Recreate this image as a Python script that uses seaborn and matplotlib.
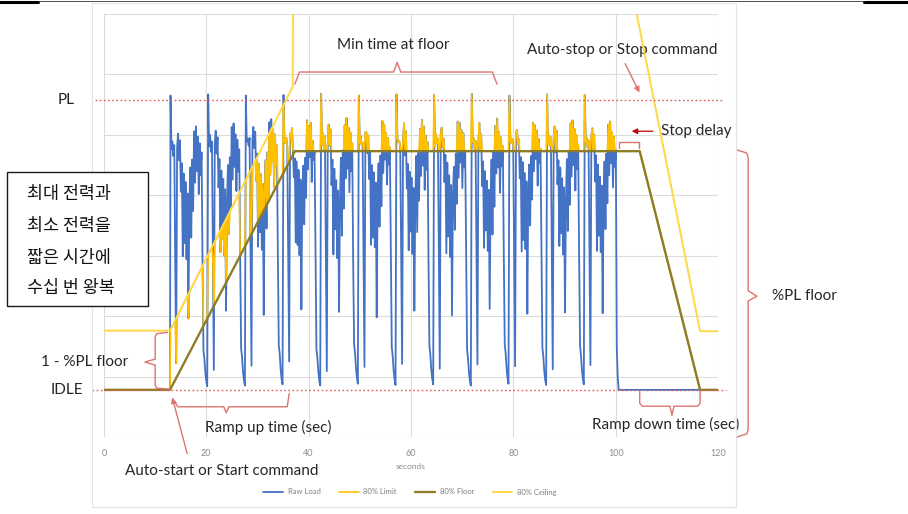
import numpy as np
import pandas as pd
import matplotlib
matplotlib.use("Agg")
import matplotlib.pyplot as plt
import seaborn as sns
from matplotlib.patches import Rectangle
from matplotlib.lines import Line2D

# ---------------- data ----------------
idle_level = 7.8
pl_level = 55.8

floor_t = [0.0, 12.9, 37.3, 104.7, 116.5, 120.0]
floor_v = [7.8, 7.8, 47.3, 47.3, 7.8, 7.8]

ceil_t = [0.0, 12.9, 36.9, 37.0, 99.4, 116.5, 120.0]
ceil_v = [17.6, 17.6, 58.0, 100.0, 90.0, 17.5, 17.5]

raw_pre_t = [0.0, 12.9]
raw_pre_v = [7.8, 7.8]
cycle_start = 13.0
cycle_period = 7.36
samples_per_cycle = 40
cycle_01 = [56.5, 47.6, 48.9, 46.5, 48.3, 28.8, 12.2, 47.9, 50.2, 45.8, 49.1, 40.6, 45.3, 29.9, 43.6, 32.1, 42.2, 29.4, 40.3, 19.6, 38.2, 44.6, 33.0, 45.9, 37.4, 50.6, 42.1, 51.4, 44.0, 49.7, 40.2, 48.6, 43.3, 47.1, 28.9, 14.3, 12.9, 10.6, 9.2, 8.4]
cycle_02 = [56.7, 48.1, 50.0, 47.2, 48.9, 29.5, 11.1, 48.4, 50.7, 46.9, 49.6, 41.3, 46.0, 30.6, 44.1, 32.8, 42.7, 30.0, 41.0, 20.9, 38.9, 45.0, 33.6, 46.3, 38.0, 51.3, 42.6, 51.9, 44.7, 50.1, 40.7, 49.2, 43.9, 47.6, 29.5, 14.7, 13.2, 10.8, 9.4, 8.5]
cycle_03 = [56.5, 48.9, 49.3, 48.2, 49.5, 30.4, 11.8, 49.1, 51.3, 47.8, 50.5, 42.4, 46.9, 31.5, 45.2, 33.9, 43.5, 31.0, 41.9, 20.2, 39.9, 45.8, 34.5, 47.1, 38.9, 52.1, 43.4, 52.6, 45.6, 50.9, 41.4, 50.1, 44.9, 48.3, 30.4, 15.2, 13.7, 11.2, 9.6, 8.7]
cycle_04 = [56.6, 49.2, 48.6, 49.5, 48.0, 31.2, 12.5, 50.2, 49.4, 51.1, 47.7, 43.0, 46.1, 32.2, 45.6, 31.8, 44.2, 30.1, 42.6, 21.1, 40.8, 44.9, 35.2, 46.2, 39.6, 52.4, 44.3, 51.5, 46.3, 52.0, 42.2, 49.0, 45.8, 47.3, 31.1, 14.6, 13.1, 10.9, 9.3, 8.5]
cycle_05 = [56.8, 48.3, 50.3, 47.6, 49.8, 29.2, 10.9, 48.5, 51.7, 48.2, 50.9, 41.7, 45.9, 30.2, 44.4, 34.4, 42.5, 29.6, 40.8, 20.7, 39.1, 46.2, 33.3, 47.5, 37.8, 51.6, 42.8, 52.8, 44.4, 51.2, 40.5, 50.4, 44.0, 48.6, 29.2, 15.4, 13.9, 11.4, 9.8, 8.8]
cycle_06 = [56.5, 48.6, 49.8, 48.4, 48.7, 30.7, 11.6, 50.4, 50.5, 47.0, 49.9, 42.7, 47.1, 31.8, 45.0, 33.0, 43.8, 31.4, 42.1, 19.8, 40.2, 45.3, 34.8, 46.6, 38.2, 52.3, 43.7, 51.7, 45.9, 50.3, 41.8, 49.5, 45.1, 47.9, 30.7, 14.9, 13.4, 11.0, 9.5, 8.6]
cycle_07 = [56.7, 49.4, 48.8, 49.0, 47.9, 29.8, 12.1, 49.0, 51.9, 46.6, 50.6, 41.1, 45.2, 30.9, 43.9, 34.0, 42.9, 30.3, 41.2, 20.9, 39.3, 46.5, 33.9, 47.0, 39.1, 51.0, 43.2, 52.5, 44.9, 51.4, 40.9, 49.9, 44.2, 48.8, 29.9, 15.0, 13.6, 11.1, 9.6, 8.7]
cycle_08 = [56.6, 47.9, 50.1, 48.6, 49.4, 30.1, 11.3, 50.0, 51.2, 48.0, 49.4, 42.2, 46.7, 30.4, 45.4, 33.2, 43.3, 29.8, 41.7, 20.1, 40.4, 44.7, 34.3, 46.9, 38.6, 52.2, 42.9, 52.0, 45.4, 50.8, 41.2, 50.3, 44.6, 47.4, 30.3, 14.5, 13.0, 10.7, 9.3, 8.5]
cycle_09 = [56.8, 48.7, 49.4, 47.7, 49.0, 31.0, 12.0, 48.6, 52.0, 47.3, 50.1, 41.5, 45.6, 31.3, 44.0, 34.2, 42.4, 30.8, 40.9, 21.2, 39.7, 45.9, 33.5, 47.3, 38.1, 51.5, 43.6, 52.7, 44.6, 50.5, 40.4, 49.6, 44.8, 48.1, 30.0, 15.3, 13.8, 11.3, 9.7, 8.8]
cycle_10 = [56.5, 49.0, 48.7, 49.3, 48.2, 29.3, 11.7, 50.3, 50.8, 48.5, 49.3, 42.8, 46.3, 30.7, 45.5, 32.6, 43.7, 31.1, 42.3, 20.4, 40.0, 45.1, 35.0, 46.5, 39.3, 52.0, 44.0, 51.6, 46.0, 50.7, 41.6, 49.3, 45.3, 47.7, 30.6, 14.8, 13.3, 10.9, 9.4, 8.6]
cycle_11 = [56.7, 48.4, 49.9, 48.1, 49.6, 30.3, 11.2, 49.6, 51.4, 47.1, 50.7, 41.8, 45.8, 31.6, 44.6, 33.7, 42.8, 30.2, 41.3, 20.6, 39.0, 46.0, 34.1, 47.2, 38.4, 51.9, 43.1, 52.4, 45.0, 51.0, 40.8, 50.0, 44.3, 48.4, 30.1, 15.1, 13.5, 11.1, 9.6, 8.7]
cycle_12 = [56.6, 48.8, 49.5, 48.0, 49.1, 30.5, 11.9, 49.8, 51.1, 47.6, 50.0, 42.3, 46.6, 30.8, 45.1, 33.3, 43.1, 30.6, 41.6, 20.5, 39.6, 45.6, 34.4, 46.9, 38.7, 51.7, 43.3, 52.2, 45.3, 50.4, 41.3, 49.7, 44.7, 47.5, 14.9, 10.0, 7.8]
raw_post_t = [101.0, 104.7, 116.5, 120.0]
raw_post_v = [7.8, 7.8, 7.8, 7.8]

x_ticks = [0, 20, 40, 60, 80, 100, 120]
series_names = ["Raw Load", "80% Limit", "80% Floor", "80% Ceiling"]
series_colors = ["#4472C4", "#FFC000", "#8F7C27", "#FFD84A"]

# ---------------- assemble tables ----------------
cycles = [cycle_01, cycle_02, cycle_03, cycle_04, cycle_05, cycle_06,
          cycle_07, cycle_08, cycle_09, cycle_10, cycle_11, cycle_12]
raw_t, raw_v = list(raw_pre_t), list(raw_pre_v)
dt = cycle_period / samples_per_cycle
for k, cyc in enumerate(cycles):
    for i, v in enumerate(cyc):
        raw_t.append(cycle_start + k * cycle_period + i * dt)
        raw_v.append(v)
raw_t += raw_post_t
raw_v += raw_post_v
raw = pd.DataFrame({"t": raw_t, "v": raw_v})
fl_at = np.interp(raw["t"], floor_t, floor_v)
ce_at = np.interp(raw["t"], ceil_t, ceil_v)
limit = pd.DataFrame({"t": raw["t"], "v": np.clip(raw["v"], fl_at, ce_at)})
floor_df = pd.DataFrame({"t": floor_t, "v": floor_v})
ceil_df = pd.DataFrame({"t": ceil_t, "v": ceil_v})

# ---------------- figure ----------------
sns.set_theme(style="white")
plt.rcParams["font.family"] = ["Lato", "Noto Sans CJK KR", "DejaVu Sans"]

W, H = 908, 514
fig = plt.figure(figsize=(W / 100, H / 100), dpi=100)
ax = fig.add_axes([104 / W, 1 - 437 / H, 614 / W, 423 / H])
ax.set_xlim(0, 120)
ax.set_ylim(0, 70)

sns.lineplot(data=raw, x="t", y="v", ax=ax, color=series_colors[0], lw=1.3,
             estimator=None, sort=False, label=series_names[0], zorder=2)
sns.lineplot(data=limit, x="t", y="v", ax=ax, color=series_colors[1], lw=1.2,
             estimator=None, sort=False, label=series_names[1], zorder=3)
sns.lineplot(data=floor_df, x="t", y="v", ax=ax, color=series_colors[2], lw=1.7,
             estimator=None, sort=False, label=series_names[2], zorder=4)
sns.lineplot(data=ceil_df, x="t", y="v", ax=ax, color=series_colors[3], lw=1.4,
             estimator=None, sort=False, label=series_names[3], zorder=5)

ax.set_xticks(x_ticks)
ax.set_yticks(np.arange(0, 71, 10))
ax.set_yticklabels([])
ax.grid(True, color="#DCDCDC", lw=0.8)
ax.set_axisbelow(True)
for s in ax.spines.values():
    s.set_visible(False)
ax.tick_params(axis="both", length=0)
ax.tick_params(axis="x", pad=9, labelsize=6.5, labelcolor="#8C8C8C")
ax.set_xlabel("seconds", fontsize=6, color="#8C8C8C", labelpad=3)
ax.set_ylabel("")

handles, labels = ax.get_legend_handles_labels()
ax.get_legend().remove()
leg = fig.legend(handles, labels, loc="center", bbox_to_anchor=(410 / W, 1 - 492 / H),
                 ncol=4, fontsize=5.5, frameon=False, handlelength=2.6,
                 columnspacing=2.4, handletextpad=0.6)
for txt in leg.get_texts():
    txt.set_color("#7F7F7F")

# reference dotted lines
dot_c = "#E06060"
ax.plot([-2.3, 121.5], [idle_level, idle_level], ls=(0, (1.2, 1.8)), color=dot_c,
        lw=1.0, clip_on=False, zorder=6)
ax.plot([-1.8, 121.0], [pl_level, pl_level], ls=(0, (1.2, 1.8)), color=dot_c,
        lw=1.0, clip_on=False, zorder=6)

# ---------------- annotations ----------------
ac = "#DB7470"
arr = "#C00000"
fs = 11
tc = "#262626"

def bracket(xs, ys):
    ax.plot(xs, ys, color=ac, lw=1.0, clip_on=False, zorder=7)

ax.text(-7.4, pl_level, "PL", fontsize=fs, color=tc, ha="center", va="center")
ax.text(-7.2, idle_level, "IDLE", fontsize=fs, color=tc, ha="center", va="center")

# Min time at floor
ax.text(56.5, 64.9, "Min time at floor", fontsize=fs, color=tc, ha="center", va="center")
bracket([37.3, 38.2, 56.6, 57.3, 58.0, 75.9, 76.8],
        [58.4, 60.4, 60.4, 62.0, 60.4, 60.4, 58.4])

# Auto-stop
ax.text(101.2, 64.0, "Auto-stop or Stop command", fontsize=fs, color=tc,
        ha="center", va="center")
ax.annotate("", xy=(104.9, 56.6), xytext=(101.6, 62.2),
            arrowprops=dict(arrowstyle="-|>", color=ac, lw=1.0, mutation_scale=8),
            annotation_clip=False)

# Stop delay
ax.text(108.8, 50.7, "Stop delay", fontsize=fs, color=tc, ha="left", va="center")
ax.annotate("", xy=(102.6, 50.6), xytext=(107.8, 50.6),
            arrowprops=dict(arrowstyle="-|>", color=arr, lw=0.9, mutation_scale=8),
            annotation_clip=False)
bracket([100.6, 100.6, 104.6, 104.6], [47.8, 48.8, 48.8, 47.8])

# %PL floor (right side)
ax.text(130.5, 23.3, "%PL floor", fontsize=fs, color=tc, ha="left", va="center")
bracket([123.7, 125.6, 125.9, 125.9, 127.6, 125.9, 125.9, 125.6, 123.7],
        [47.5, 47.0, 46.3, 24.2, 23.3, 22.5, 1.2, 0.5, 0.0])

# 1 - %PL floor (left side)
ax.text(-3.8, 12.4, "1 - %PL floor", fontsize=fs, color=tc, ha="center", va="center")
bracket([12.4, 10.3, 10.0, 10.0, 8.0, 10.0, 10.0, 10.3, 12.9],
        [17.3, 17.1, 16.6, 12.9, 12.4, 11.9, 8.6, 8.1, 7.9])

# Ramp up time
ax.text(32.1, 1.5, "Ramp up time (sec)", fontsize=fs, color=tc, ha="center", va="center")
bracket([14.0, 14.4, 23.4, 23.9, 24.4, 35.8, 36.2],
        [5.6, 5.0, 5.0, 4.0, 5.0, 5.0, 7.2])

# Auto-start
ax.text(23.1, -5.6, "Auto-start or Start command", fontsize=fs, color=tc,
        ha="center", va="center")
ax.annotate("", xy=(13.2, 7.0), xytext=(16.4, -3.2),
            arrowprops=dict(arrowstyle="-|>", color=ac, lw=1.0, mutation_scale=8),
            annotation_clip=False)

# Ramp down time
ax.text(109.8, 2.0, "Ramp down time (sec)", fontsize=fs, color=tc, ha="center", va="center")
bracket([104.7, 104.7, 105.2, 110.6, 111.0, 111.4, 116.0, 116.5, 116.5],
        [7.6, 5.6, 5.1, 5.1, 3.6, 5.1, 5.1, 5.6, 7.6])

# Korean note box (figure pixel coordinates)
def fx(x):
    return x / W

def fy(y):
    return 1 - y / H

box = Rectangle((fx(7), fy(306)), fx(148) - fx(7), fy(172) - fy(306),
                transform=fig.transFigure, facecolor="white", edgecolor="#1A1A1A",
                lw=1.0, zorder=20)
fig.add_artist(box)
note_lines = ["최대 전력과", "최소 전력을", "짧은 시간에", "수십 번 왕복"]
for yy, line in zip([194, 226, 258, 288], note_lines):
    fig.text(fx(27), fy(yy), line, fontsize=12.5, style="italic", color="#111111",
             ha="left", va="center", family=["Noto Sans CJK KR", "DejaVu Sans"],
             zorder=21)

# chart-area border and page lines
fig.add_artist(Rectangle((fx(91.5), fy(507)), fx(736.5) - fx(91.5), fy(3.5) - fy(507),
                         transform=fig.transFigure, facecolor="none",
                         edgecolor="#E3E3E3", lw=0.8))
fig.add_artist(Line2D([0, fx(38)], [fy(1.5), fy(1.5)], transform=fig.transFigure,
                      color="black", lw=2.2))
fig.add_artist(Line2D([fx(864), 1], [fy(1.5), fy(1.5)], transform=fig.transFigure,
                      color="black", lw=2.2))
fig.add_artist(Line2D([fx(38), fx(864)], [fy(1.2), fy(1.2)], transform=fig.transFigure,
                      color="#333333", lw=0.6))

fig.savefig("out.png", dpi=100, facecolor="white")
